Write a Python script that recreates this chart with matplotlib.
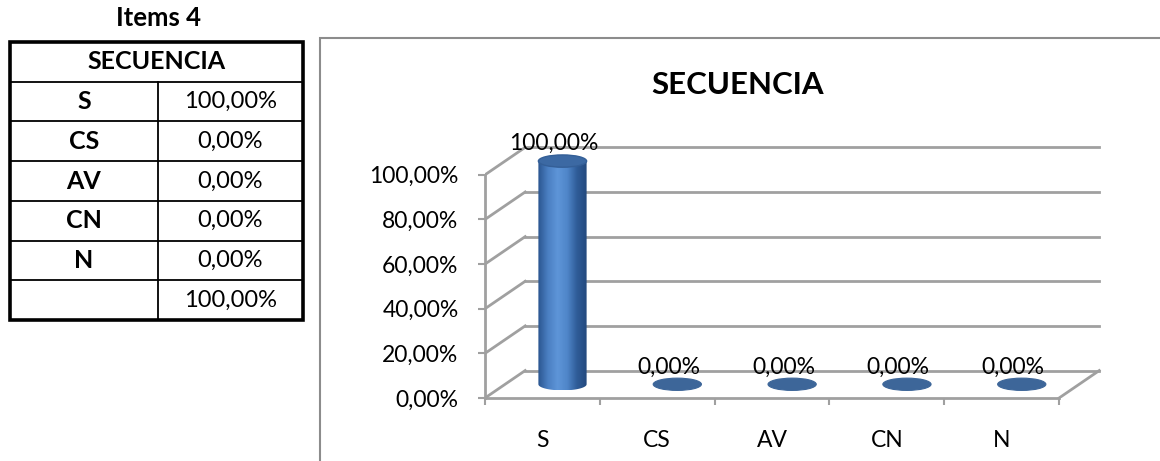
import numpy as np
import matplotlib
matplotlib.use("Agg")
import matplotlib.pyplot as plt
from matplotlib.patches import Rectangle, Ellipse, PathPatch
from matplotlib.path import Path
from matplotlib.colors import LinearSegmentedColormap

plt.rcParams['font.family'] = ['Lato', 'DejaVu Sans']

# data
categories = ['S', 'CS', 'AV', 'CN', 'N']
values = [100.0, 0.0, 0.0, 0.0, 0.0]
total_value = 100.0
table_caption = 'Items 4'
table_header = 'SECUENCIA'
chart_title = 'SECUENCIA'
y_ticks = [0, 20, 40, 60, 80, 100]


def pct(v):
    return f'{v:.2f}'.replace('.', ',') + '%'


W, H = 1160, 461
fig = plt.figure(figsize=(W / 100, H / 100), dpi=100)


def px_box(x0, y0, x1, y1):
    return [x0 / W, 1 - y1 / H, (x1 - x0) / W, (y1 - y0) / H]


# ---------------- table on the left ----------------
tax = fig.add_axes(px_box(10, 42, 303, 320))
n_rows = len(categories) + 2
split = 0.505
tax.set_xlim(0, 1)
tax.set_ylim(n_rows, 0)
tax.axis('off')

tax.add_patch(Rectangle((0, 0), 1, n_rows, fill=False, edgecolor='black',
                        lw=2.6, clip_on=False, zorder=3))
for r in range(1, n_rows):
    tax.plot([0, 1], [r, r], color='black', lw=1.3, clip_on=False)
tax.plot([split, split], [1, n_rows], color='black', lw=1.3, clip_on=False)

tax.text(0.5, 0.5, table_header, ha='center', va='center',
         fontsize=18, fontweight='bold')
for i, (cat, v) in enumerate(zip(categories, values)):
    r = i + 1.5
    tax.text(split / 2, r, cat, ha='center', va='center',
             fontsize=18, fontweight='bold')
    tax.text((split + 1) / 2, r, pct(v), ha='center', va='center', fontsize=17)
tax.text((split + 1) / 2, n_rows - 0.5, pct(total_value), ha='center',
         va='center', fontsize=17)

fig.text(158 / W, 1 - 18 / H, table_caption, ha='center', va='center',
         fontsize=18.5, fontweight='bold')

# ---------------- chart frame and title ----------------
fig.add_artist(Rectangle((320 / W, -0.1), 1.0, 1 - 38 / H + 0.1,
                         transform=fig.transFigure, fill=False,
                         edgecolor='#8c8c8c', lw=1.5))
fig.text(738 / W, 1 - 85 / H, chart_title, ha='center', va='center',
         fontsize=22.5, fontweight='bold')

# ---------------- pseudo 3D cylinder chart ----------------
ax = fig.add_axes(px_box(485, 119, 1105, 398))
ax.set_xlim(-0.5, 4.9)
ax.set_ylim(0, 125)

depth_x = 0.35
depth_y = 12.3
grid_col = '#a0a0a0'
n = len(categories)

for v in y_ticks:
    ax.plot([-0.5 + depth_x, n - 0.5 + depth_x], [v + depth_y] * 2,
            color=grid_col, lw=2, zorder=1)
    ax.plot([-0.5, -0.5 + depth_x], [v, v + depth_y],
            color=grid_col, lw=2, zorder=1)
ax.plot([n - 0.5, n - 0.5 + depth_x], [0, depth_y], color=grid_col, lw=2,
        zorder=1)

for side in ['top', 'right']:
    ax.spines[side].set_visible(False)
ax.spines['left'].set_bounds(0, 100)
ax.spines['bottom'].set_bounds(-0.5, n - 0.5)
for side in ['left', 'bottom']:
    ax.spines[side].set_color(grid_col)
    ax.spines[side].set_linewidth(2)

ax.set_yticks(y_ticks)
ax.set_yticklabels([pct(v) for v in y_ticks], fontsize=16.5)
ax.tick_params(axis='y', length=5, width=1.5, color=grid_col, pad=14)
ax.set_xticks(range(n))
ax.set_xticklabels(categories, fontsize=16.5)
ax.set_xticks(np.arange(-0.5, n), minor=True)
ax.tick_params(axis='x', which='major', length=0, pad=23)
ax.tick_params(axis='x', which='minor', length=5, width=1.5, color=grid_col)

cyl_cmap = LinearSegmentedColormap.from_list(
    'cyl', ['#2b5690', '#4a7fc2', '#5e95d8', '#4f86c9', '#2f5c98', '#244a7e'])
grad = np.linspace(0, 1, 100).reshape(1, -1)

w = 0.42
eh = 5.5
base = depth_y / 2
for i, v in enumerate(values):
    cx = i + depth_x / 2
    if v > 0:
        t = np.linspace(np.pi, 2 * np.pi, 40)
        verts = [(cx - w / 2, base + v)]
        verts += list(zip(cx + w / 2 * np.cos(t), base + eh / 2 * np.sin(t)))
        verts += [(cx + w / 2, base + v), (cx - w / 2, base + v)]
        path = Path(verts)
        outline = PathPatch(path, facecolor='none', edgecolor='none',
                            transform=ax.transData)
        ax.add_patch(outline)
        im = ax.imshow(grad, extent=[cx - w / 2, cx + w / 2, base - eh / 2, base + v],
                       aspect='auto', cmap=cyl_cmap, zorder=3, origin='lower')
        im.set_clip_path(outline)
        ax.add_patch(Ellipse((cx, base + v), w, eh, facecolor='#3c69a3',
                             edgecolor='#345f97', lw=1, zorder=4))
    else:
        ax.add_patch(Ellipse((cx, base), w, eh, facecolor='#3d6699',
                             edgecolor='#3d6699', lw=0.8, zorder=4))
    ax.text(i + 0.1, base + v + eh / 2 + 0.3, pct(v), ha='center', va='bottom',
            fontsize=16.5, zorder=5)

ax.set_xlim(-0.5, 4.9)
ax.set_ylim(0, 125)

fig.savefig('out.png', dpi=100)
